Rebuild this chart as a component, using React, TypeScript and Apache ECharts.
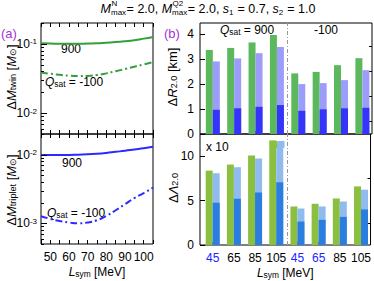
import React, { useEffect, useRef } from 'react';
import * as echarts from 'echarts';

const FONT = "'Liberation Sans', Arial, Helvetica, sans-serif";

// Left panels: L_sym grid and curves
const Lsym = [45, 50, 55, 60, 65, 70, 75, 80, 85, 90, 95, 100, 105];
const twin900 = [0.102, 0.101, 0.100, 0.100, 0.100, 0.101, 0.102, 0.104, 0.106, 0.109, 0.113, 0.119, 0.126];
const twinM100 = [0.0386, 0.037, 0.0357, 0.0347, 0.0343, 0.0345, 0.0355, 0.0375, 0.0403, 0.0433, 0.0468, 0.0505, 0.0546];
const triplet900 = [0.0099, 0.0099, 0.0099, 0.0099, 0.0100, 0.0101, 0.0103, 0.0106, 0.0110, 0.0114, 0.0119, 0.0124, 0.0130];
const tripletM100 = [0.00127, 0.00116, 0.00108, 0.00103, 0.00100, 0.00103, 0.00111, 0.00128, 0.00155, 0.0019, 0.00233, 0.00275, 0.0033];

const logTicksTwin = [0.005, 0.006, 0.007, 0.008, 0.009, 0.01, 0.02, 0.03, 0.04, 0.05, 0.06, 0.07, 0.08, 0.09, 0.1, 0.2];
const logTicksTriplet = [0.0005, 0.0006, 0.0007, 0.0008, 0.0009, 0.001, 0.002, 0.003, 0.004, 0.005, 0.006, 0.007, 0.008, 0.009, 0.01, 0.02];

// Right panels: bar groups
const groupPos = [1, 2, 3, 4, 5, 6, 7, 8];
const groupLabels = ['45', '65', '85', '105', '45', '65', '85', '105'];
const groupLabelBlue = [true, false, false, false, true, true, false, false];
const R_green = [3.37, 3.45, 3.67, 3.97, 2.43, 2.49, 2.76, 3.04];
const R_light = [2.91, 3.03, 3.24, 3.49, 2.0, 2.04, 2.16, 2.56];
const R_dark = [0.97, 1.03, 1.09, 1.16, 0.93, 0.99, 1.03, 1.05];
const Lam_green = [8.38, 9.06, 10.08, 11.78, 4.34, 4.64, 5.24, 6.6];
const Lam_light = [8.08, 8.76, 9.74, 11.44, 4.11, 4.34, 4.9, 6.23];
const Lam_dark = [4.76, 5.21, 5.92, 7.06, 2.64, 2.83, 3.17, 4.0];

const R_major = [0, 1, 2, 3, 4];
const R_minor = [0.5, 1.5, 2.5, 3.5];
const Lam_major = [0, 5, 10];
const Lam_minor = [2.5, 7.5];

const GREEN_LINE = '#33a03a';
const BLUE_LINE = '#2b2bff';
const PURPLE = '#a632d6';

export default function App() {
  const ref = useRef<HTMLDivElement>(null);
  useEffect(() => {
    if (!ref.current) return;
    const chart = echarts.init(ref.current, null, { renderer: 'svg' });

    const canvas = document.createElement('canvas');
    const ctx = canvas.getContext('2d')!;
    const mw = (t: string, size: number, italic = false) => {
      ctx.font = `${italic ? 'italic ' : ''}${size}px ${FONT}`;
      return ctx.measureText(t).width;
    };

    // Title layout
    const MS = 12.5, SS = 8;
    const segs: any[] = [
      { t: 'M', it: true }, { sup: 'N', sub: 'max' }, { t: '= 2.0, ' },
      { t: 'M', it: true }, { sup: 'Q2', sub: 'max' }, { t: '= 2.0, ' },
      { t: 's', it: true }, { sub: '1' }, { t: ' = 0.7, ' },
      { t: 's', it: true }, { sub: '2' }, { t: ' = 1.0' },
    ];
    const widths = segs.map((s) =>
      s.t !== undefined ? mw(s.t, MS, s.it) : Math.max(s.sup ? mw(s.sup, SS) : 0, s.sub ? mw(s.sub, SS) : 0) + 0.5
    );
    const total = widths.reduce((a, b) => a + b, 0);
    let cx = 208 - total / 2;
    const titleEls: any[] = [];
    segs.forEach((s, i) => {
      const common = { fontFamily: FONT, fill: '#000', align: 'left', textAlign: 'left', verticalAlign: 'middle', textVerticalAlign: 'middle' };
      if (s.t !== undefined) {
        titleEls.push({ type: 'text', x: cx, y: 8.5, style: { ...common, text: s.t, fontSize: MS, fontStyle: s.it ? 'italic' : 'normal' } });
      } else {
        if (s.sup) titleEls.push({ type: 'text', x: cx + 0.5, y: 3, style: { ...common, text: s.sup, fontSize: SS } });
        if (s.sub) titleEls.push({ type: 'text', x: cx, y: 12.6, style: { ...common, text: s.sub, fontSize: SS } });
      }
      cx += widths[i];
    });

    const richSub = (size: number) => ({
      i: { fontStyle: 'italic', fontSize: size, fontFamily: FONT },
      s: { fontSize: size * 0.7, verticalAlign: 'bottom', lineHeight: size * 0.75, fontFamily: FONT },
    });

    const txt = (x: number, y: number, text: string, opts: any = {}) => ({
      type: 'text',
      x, y,
      rotation: opts.rotation || 0,
      style: {
        text,
        fontFamily: FONT,
        fontSize: opts.size || 12,
        fill: opts.color || '#000',
        align: opts.align || 'center', textAlign: opts.align || 'center',
        verticalAlign: 'middle', textVerticalAlign: 'middle',
        rich: richSub(opts.size || 12),
      },
    });

    const graphics: any[] = [
      ...titleEls,
      txt(1, 33, '(a)', { align: 'left', color: PURPLE, size: 13 }),
      txt(164, 33, '(b)', { align: 'left', color: PURPLE, size: 13 }),
      txt(11, 77, 'Δ{i|M}{s|twin} [{i|M}{s|⊙}]', { rotation: Math.PI / 2, size: 13 }),
      txt(11, 190, 'Δ{i|M}{s|triplet} [{i|M}{s|⊙}]', { rotation: Math.PI / 2, size: 13 }),
      txt(172, 77, 'Δ{i|R}{s|2.0} [km]', { rotation: Math.PI / 2, size: 13 }),
      txt(173, 188, 'Δ{i|Λ}{s|2.0}', { rotation: Math.PI / 2, size: 13 }),
      txt(71, 49, '900'),
      txt(45, 82, '{i|Q}{s|sat} = -100', { align: 'left' }),
      txt(72, 163, '900'),
      txt(47, 213, '{i|Q}{s|sat} = -100', { align: 'left' }),
      txt(220, 30, '{i|Q}{s|sat} = 900', { align: 'left' }),
      txt(326, 30, '-100'),
      txt(206, 147, 'x 10', { align: 'left' }),
      { type: 'rect', shape: { x: 270.5, y: 141, width: 7, height: 7 }, style: { fill: '#8bbf3f' }, z: 100 },
      { type: 'rect', shape: { x: 277.5, y: 141, width: 7, height: 7 }, style: { fill: '#8fbbef' }, z: 100 },
    ];

    const leftX = (gridIndex: number, position: string, labels: boolean) => ({
      type: 'value', gridIndex, position, min: 45, max: 105, interval: 5,
      axisLine: { show: false },
      axisTick: { show: true, inside: true, length: 4, lineStyle: { color: '#000', width: 1 } },
      axisLabel: labels
        ? { show: true, color: '#000', fontSize: 12, fontFamily: FONT, margin: 7, formatter: (v: number) => (v % 10 === 0 ? String(v) : '') }
        : { show: false },
      splitLine: { show: false },
      ...(labels
        ? {
            name: '{i|L}{s|sym} [MeV]', nameLocation: 'middle', nameGap: 22,
            nameTextStyle: { color: '#000', fontSize: 12, fontFamily: FONT, rich: richSub(12) },
          }
        : {}),
    });

    const rightX = (gridIndex: number, labels: boolean) => ({
      type: 'value', gridIndex, position: 'bottom', min: 0.4, max: 8.45,
      axisLine: { show: false },
      axisTick: { show: true, inside: true, length: 3, customValues: groupPos, lineStyle: { color: '#000' } },
      axisLabel: labels
        ? {
            show: true, customValues: groupPos, margin: 7, fontSize: 12, fontFamily: FONT,
            formatter: (v: number) => {
              const i = Math.round(v) - 1;
              return `{${groupLabelBlue[i] ? 'b' : 'k'}|${groupLabels[i]}}`;
            },
            rich: { b: { color: '#2323ff', fontSize: 12, fontFamily: FONT }, k: { color: '#000', fontSize: 12, fontFamily: FONT } },
          }
        : { show: false },
      splitLine: { show: false },
      ...(labels
        ? {
            name: '{i|L}{s|sym} [MeV]', nameLocation: 'middle', nameGap: 22,
            nameTextStyle: { color: '#000', fontSize: 12, fontFamily: FONT, rich: richSub(12) },
          }
        : {}),
    });

    const logY = (gridIndex: number, min: number, max: number) => ({
      type: 'log', logBase: 10, gridIndex, min, max,
      axisLine: { show: false }, axisTick: { show: false }, splitLine: { show: false },
      axisLabel: {
        show: true, margin: 4, color: '#000', fontSize: 12, fontFamily: FONT,
        formatter: (v: number) => {
          const e = Math.log10(v);
          return Math.abs(e - Math.round(e)) < 1e-6 ? `10{sup|${Math.round(e)}}` : '';
        },
        rich: { sup: { fontSize: 8, lineHeight: 8, verticalAlign: 'top', fontFamily: FONT, color: '#000' } },
      },
    });

    const linY = (gridIndex: number, max: number, ticks: number[], len: number, labels: boolean) => ({
      type: 'value', gridIndex, min: 0, max,
      axisLine: { show: false }, splitLine: { show: false },
      axisTick: { show: true, inside: true, length: len, customValues: ticks, lineStyle: { color: '#000' } },
      axisLabel: labels
        ? { show: true, customValues: ticks, margin: 6, color: '#000', fontSize: 12, fontFamily: FONT }
        : { show: false },
    });

    const tickSeries = (xi: number, yi: number, vals: number[]) => ({
      type: 'custom', xAxisIndex: xi, yAxisIndex: yi, silent: true, z: 5,
      data: vals.map((v) => [45, v]),
      renderItem: (params: any, api: any) => {
        const v = api.value(1);
        const y = Math.round(api.coord([45, v])[1]) + 0.5;
        const x0 = params.coordSys.x;
        const e = Math.log10(v);
        const len = Math.abs(e - Math.round(e)) < 1e-6 ? 6 : 3;
        return { type: 'line', shape: { x1: x0, y1: y, x2: x0 + len, y2: y }, style: { stroke: '#000', lineWidth: 1 } };
      },
    });

    const line = (xi: number, yi: number, data: number[], color: string, dashed: boolean) => ({
      type: 'line', xAxisIndex: xi, yAxisIndex: yi, smooth: true, showSymbol: false, symbol: 'none',
      data: Lsym.map((l, i) => [l, data[i]]),
      lineStyle: { color, width: 2, type: dashed ? [7, 3, 2, 3] : 'solid' },
      z: 3,
    });

    const sepLine = {
      silent: true, symbol: ['none', 'none'], label: { show: false },
      lineStyle: { color: '#999', type: [4, 2, 1, 2], width: 1 },
      data: [{ xAxis: 4.5 }],
    };

    const BW = 7;
    const bars = (xi: number, yi: number, g: number[], l: number[], d: number[], cols: string[]) => ({
      type: 'custom', xAxisIndex: xi, yAxisIndex: yi, silent: true, z: 2,
      data: groupPos.map((p, i) => [p, g[i], l[i], d[i]]),
      encode: { x: 0, y: [1, 2, 3] },
      renderItem: (params: any, api: any) => {
        const p = api.value(0);
        const base = api.coord([p, 0]);
        const x = base[0];
        const y0 = base[1];
        const yg = api.coord([p, api.value(1)])[1];
        const yl = api.coord([p, api.value(2)])[1];
        const yd = api.coord([p, api.value(3)])[1];
        return {
          type: 'group',
          children: [
            { type: 'rect', shape: { x: x - BW, y: yg, width: BW, height: y0 - yg }, style: { fill: cols[0] } },
            { type: 'rect', shape: { x, y: yl, width: BW, height: y0 - yl }, style: { fill: cols[1] } },
            { type: 'rect', shape: { x, y: yd, width: BW, height: y0 - yd }, style: { fill: cols[2] } },
          ],
        };
      },
      markLine: sepLine,
    });

    const gridStyle = { show: true, borderColor: '#000', borderWidth: 1, backgroundColor: 'transparent', containLabel: false };

    chart.setOption({
      animation: false,
      textStyle: { fontFamily: FONT },
      grid: [
        { ...gridStyle, left: 41, top: 23, width: 112, height: 111 },
        { ...gridStyle, left: 41, top: 134, width: 112, height: 110 },
        { ...gridStyle, left: 200, top: 23, width: 172, height: 111 },
        { ...gridStyle, left: 200, top: 134, width: 172, height: 111 },
      ],
      xAxis: [
        leftX(0, 'bottom', false),
        leftX(0, 'top', false),
        leftX(1, 'bottom', true),
        leftX(1, 'top', false),
        rightX(2, false),
        rightX(3, true),
      ],
      yAxis: [
        logY(0, 0.005, 0.2),
        logY(1, 0.0005, 0.02),
        linY(2, 4.45, R_major, 5, true),
        linY(2, 4.45, R_minor, 3, false),
        linY(3, 12.5, Lam_major, 5, true),
        linY(3, 12.5, Lam_minor, 3, false),
      ],
      series: [
        tickSeries(0, 0, logTicksTwin),
        tickSeries(2, 1, logTicksTriplet),
        line(0, 0, twin900, GREEN_LINE, false),
        line(0, 0, twinM100, GREEN_LINE, true),
        line(2, 1, triplet900, BLUE_LINE, false),
        line(2, 1, tripletM100, BLUE_LINE, true),
        bars(4, 2, R_green, R_light, R_dark, ['#5cb85c', '#9c9cfa', '#3434fa']),
        bars(5, 4, Lam_green, Lam_light, Lam_dark, ['#8bbf3f', '#8fbbef', '#2b7ddf']),
      ],
      graphic: graphics,
    });
    return () => chart.dispose();
  }, []);
  return <div ref={ref} style={{ position: 'absolute', left: 0, top: 0, width: 374, height: 281 }} />;
}
